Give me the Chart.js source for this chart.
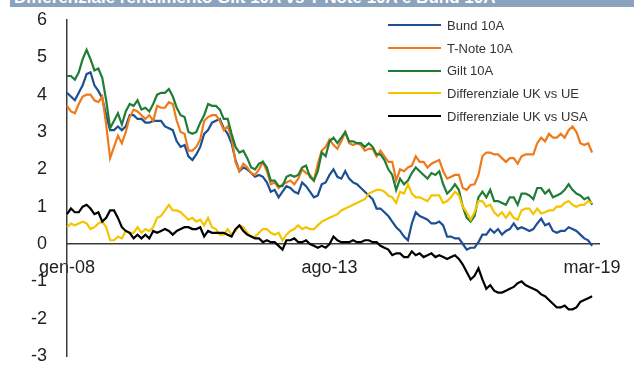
<!DOCTYPE html>
<html lang="it">
<head>
<meta charset="utf-8">
<title>Differenziale rendimento Gilt 10A</title>
<script src="https://cdn.jsdelivr.net/npm/chart.js@4.4.1/dist/chart.umd.min.js"></script>
<style>
    html, body { margin: 0; padding: 0; background: #fff; }
    #wrap { position: relative; width: 634px; height: 367px; overflow: hidden; font-family: "Liberation Sans", Arial, sans-serif; }
    #titolo { position: absolute; left: 10px; top: 0; width: 624px; height: 7px; background: #8ba3bc; overflow: hidden; z-index: 2; }
    #titolo span { position: absolute; left: 4px; bottom: 1px; color: #fff; font-weight: bold; font-size: 17px; line-height: 17px; white-space: nowrap; }
    #legenda { position: absolute; left: 388px; top: 14px; font-size: 13px; color: #333; z-index: 2; }
    .voce { height: 22.7px; display: flex; align-items: center; white-space: nowrap; }
    .voce i { display: inline-block; width: 53px; height: 2px; margin-right: 6px; }
    canvas { position: absolute; left: 0; top: 0; }
</style>
</head>
<body>
<div id="wrap">
    <div id="titolo"><span>Differenziale rendimento Gilt 10A vs T-Note 10A e Bund 10A</span></div>
    <canvas id="grafico" width="634" height="367"></canvas>
    <div id="legenda"></div>
</div>
<script>
"use strict";

// mesi da gen-08 a mar-19, dati mensili
let mesi = ['gen', 'feb', 'mar', 'apr', 'mag', 'giu', 'lug', 'ago', 'set', 'ott', 'nov', 'dic'];
let anni = ['08', '09', '10', '11', '12', '13', '14', '15', '16', '17', '18', '19'];
let etichetteAsse = ['gen-08', 'ago-13', 'mar-19'];

let bund = [
    4.05, 3.95, 3.85, 4.05, 4.25, 4.55, 4.6, 4.25, 4.1, 3.9, 3.45, 3.05,
    3.05, 3.15, 3.05, 3.15, 3.45, 3.45, 3.35, 3.35, 3.25, 3.25, 3.3, 3.3,
    3.3, 3.15, 3.1, 3.05, 2.75, 2.6, 2.65, 2.35, 2.25, 2.4, 2.6, 2.95,
    3.05, 3.25, 3.3, 3.35, 3.1, 2.95, 2.7, 2.25, 1.95, 2.05, 2.0, 1.9,
    1.8, 1.85, 1.8, 1.65, 1.4, 1.45, 1.25, 1.4, 1.55, 1.5, 1.4, 1.35,
    1.65, 1.55, 1.4, 1.25, 1.3, 1.6, 1.65, 1.85, 2.0, 1.8, 1.75, 1.95,
    1.75, 1.65, 1.6, 1.5, 1.4, 1.3, 1.2, 0.95, 0.95, 0.85, 0.75, 0.6,
    0.45, 0.35, 0.2, 0.1, 0.55, 0.85, 0.75, 0.7, 0.65, 0.55, 0.55, 0.6,
    0.5, 0.2, 0.2, 0.15, 0.15, 0.0, -0.15, -0.1, -0.1, 0.05, 0.25, 0.25,
    0.4, 0.3, 0.4, 0.25, 0.35, 0.4, 0.55, 0.4, 0.45, 0.4, 0.35, 0.4,
    0.55, 0.68, 0.5, 0.55, 0.35, 0.3, 0.35, 0.35, 0.45, 0.4, 0.35, 0.25,
    0.15, 0.1, -0.05
];
let tnote = [
    3.7, 3.55, 3.5, 3.75, 3.95, 4.0, 4.0, 3.85, 3.8, 3.95, 3.2, 2.3,
    2.6, 2.9, 2.7, 3.0, 3.4, 3.6, 3.55, 3.45, 3.35, 3.45, 3.3, 3.7,
    3.65, 3.65, 3.8, 3.75, 3.3, 3.0, 2.95, 2.5, 2.5, 2.6, 2.8, 3.3,
    3.4, 3.45, 3.45, 3.3, 3.05, 3.15, 2.85, 2.2, 1.95, 2.15, 2.05, 1.9,
    1.85, 2.0, 2.2, 1.95, 1.6, 1.65, 1.5, 1.6, 1.65, 1.7, 1.6, 1.75,
    2.0, 1.9, 1.85, 1.7, 2.15, 2.5, 2.6, 2.8, 2.65, 2.55, 2.75, 3.0,
    2.7, 2.65, 2.7, 2.65, 2.5, 2.55, 2.55, 2.35, 2.5, 2.35, 2.2, 2.2,
    1.7, 2.0, 1.95, 2.05, 2.1, 2.35, 2.2, 2.2, 2.05, 2.15, 2.2, 2.25,
    1.95, 1.75, 1.8, 1.85, 1.85, 1.5, 1.45, 1.58, 1.6, 1.85, 2.35, 2.45,
    2.45, 2.4, 2.4, 2.3, 2.2, 2.3, 2.3, 2.15, 2.35, 2.4, 2.4, 2.4,
    2.7, 2.85, 2.75, 2.95, 2.85, 2.85, 2.95, 2.85, 3.05, 3.15, 3.0, 2.7,
    2.65, 2.7, 2.45
];
let gilt = [
    4.5, 4.5, 4.4, 4.6, 4.95, 5.2, 4.95, 4.65, 4.7, 4.45, 3.85, 3.1,
    3.3, 3.5, 3.2, 3.55, 3.75, 3.7, 3.85, 3.6, 3.65, 3.55, 3.75, 4.0,
    4.05, 4.05, 4.15, 3.95, 3.65, 3.45, 3.4, 3.0, 2.95, 3.0, 3.25, 3.45,
    3.75, 3.7, 3.7, 3.6, 3.35, 3.35, 2.95, 2.6, 2.45, 2.5, 2.3, 2.05,
    2.0, 2.15, 2.2, 2.05, 1.7, 1.7, 1.55, 1.55, 1.8, 1.85, 1.8, 1.85,
    2.05, 2.1, 1.8, 1.7, 1.95, 2.45, 2.35, 2.75, 2.85, 2.7, 2.85, 3.0,
    2.75, 2.75, 2.7, 2.7, 2.6, 2.7, 2.6, 2.4, 2.4, 2.25, 2.0, 1.85,
    1.45, 1.75, 1.6, 1.7, 1.9, 2.05, 1.95, 1.85, 1.75, 1.9, 1.85, 1.95,
    1.6, 1.35, 1.45, 1.6, 1.45, 1.0, 0.7, 0.6, 0.75, 1.25, 1.4, 1.25,
    1.45, 1.15, 1.15, 1.1, 1.05, 1.25, 1.25, 1.05, 1.35, 1.35, 1.3, 1.2,
    1.5, 1.5, 1.35, 1.45, 1.25, 1.3, 1.35, 1.45, 1.6, 1.45, 1.35, 1.3,
    1.2, 1.25, 1.05
];
let diffUe = [
    0.45, 0.55, 0.5, 0.55, 0.6, 0.55, 0.4, 0.45, 0.55, 0.6, 0.45, 0.1,
    0.1, 0.2, 0.15, 0.35, 0.3, 0.3, 0.45, 0.3, 0.4, 0.35, 0.45, 0.7,
    0.75, 0.9, 1.05, 0.9, 0.9, 0.85, 0.75, 0.65, 0.7, 0.6, 0.65, 0.5,
    0.7, 0.45, 0.4, 0.25, 0.25, 0.4, 0.25, 0.35, 0.5, 0.45, 0.3, 0.2,
    0.2, 0.3, 0.4, 0.4, 0.3, 0.25, 0.3, 0.1, 0.25, 0.35, 0.4, 0.5,
    0.4, 0.45, 0.4, 0.4, 0.5, 0.6, 0.65, 0.7, 0.75, 0.8, 0.9, 0.95,
    1.0, 1.05, 1.1, 1.15, 1.2, 1.35, 1.4, 1.45, 1.45, 1.4, 1.3, 1.25,
    1.1, 1.4, 1.35, 1.6, 1.35, 1.25, 1.25, 1.2, 1.15, 1.3, 1.3, 1.3,
    1.1, 1.15, 1.25, 1.4, 1.3, 1.0, 0.85, 0.65, 0.85, 1.15, 1.15, 1.0,
    1.05, 0.85, 0.75, 0.85, 0.7, 0.85, 0.7, 0.65, 0.9, 0.95, 0.95, 0.8,
    0.95, 0.82, 0.85, 0.9, 0.9, 1.0, 1.0, 1.1, 1.15, 1.05, 1.0, 1.05,
    1.05, 1.15, 1.1
];
let diffUsa = [
    0.8, 0.95, 0.85, 0.85, 1.0, 1.05, 0.95, 0.8, 0.85, 0.6, 0.7, 0.9,
    0.9, 0.7, 0.45, 0.35, 0.3, 0.15, 0.25, 0.15, 0.25, 0.15, 0.35, 0.3,
    0.35, 0.4, 0.35, 0.25, 0.35, 0.4, 0.45, 0.45, 0.4, 0.4, 0.45, 0.2,
    0.35, 0.3, 0.3, 0.3, 0.3, 0.25, 0.2, 0.4, 0.5, 0.35, 0.25, 0.2,
    0.15, 0.15, 0.05, 0.1, 0.05, 0.05, -0.05, -0.15, 0.1, 0.1, 0.15, 0.05,
    0.05, 0.1, 0.0, -0.05, -0.1, -0.05, -0.1, 0.0, 0.2, 0.1, 0.05, 0.05,
    0.05, 0.1, 0.05, 0.05, 0.1, 0.1, 0.05, 0.05, -0.05, -0.1, -0.15, -0.3,
    -0.25, -0.25, -0.35, -0.35, -0.2, -0.3, -0.25, -0.35, -0.3, -0.25, -0.35, -0.3,
    -0.35, -0.4, -0.35, -0.3, -0.4, -0.55, -0.75, -0.95, -0.85, -0.65, -0.95, -1.2,
    -1.1, -1.25, -1.3, -1.3, -1.25, -1.2, -1.15, -1.05, -1.0, -1.1, -1.15, -1.2,
    -1.25, -1.35, -1.4, -1.5, -1.6, -1.7, -1.7, -1.65, -1.75, -1.75, -1.7, -1.55,
    -1.5, -1.45, -1.4
];

let nomiSerie = ['Bund 10A', 'T-Note 10A', 'Gilt 10A', 'Differenziale UK vs UE', 'Differenziale UK vs USA'];
let colori = ['#1d4f94', '#f07a1a', '#1f7d35', '#f5c400', '#000000'];

let font = "'Liberation Sans', Arial, sans-serif";

function main() {
    // etichette mensili, con due mesi vuoti in coda per allungare l'asse
    let labels = [];
    for (let a = 0; a < anni.length; a++) {
        for (let m = 0; m < 12; m++) {
            labels.push(mesi[m] + '-' + anni[a]);
            if (anni[a] === '19' && m === 4) break;
        }
    }

    let valori = [bund, tnote, gilt, diffUe, diffUsa];
    let datasets = [];
    for (let i = 0; i < valori.length; i++) {
        datasets.push({
            label: nomiSerie[i],
            data: valori[i],
            borderColor: colori[i],
            borderWidth: 2.2,
            pointRadius: 0,
            tension: 0,
            fill: false,
            order: valori.length - i // l'ultima serie sopra le altre
        });
    }

    new Chart(document.getElementById('grafico'), {
        type: 'line',
        data: { labels: labels, datasets: datasets },
        options: {
            responsive: false,
            animation: false,
            devicePixelRatio: 1,
            layout: { padding: { top: 20, right: 26, bottom: 10, left: 0 } },
            plugins: { legend: { display: false }, tooltip: { enabled: false } },
            scales: {
                x: {
                    type: 'category',
                    position: { y: 0 },
                    grid: { display: false, drawTicks: false },
                    border: { display: true, color: '#3c3c3c', width: 1.5 },
                    ticks: {
                        autoSkip: false,
                        maxRotation: 0,
                        padding: 13,
                        color: '#222',
                        font: { size: 18, family: font },
                        callback: function (v) {
                            let l = this.getLabelForValue(v);
                            return etichetteAsse.includes(l) ? l : null;
                        }
                    },
                    // l'asse sta sullo zero, non deve togliere spazio in basso
                    afterFit: function (scale) { scale.height = 0; }
                },
                y: {
                    min: -3,
                    max: 6,
                    // tacche trasparenti: spostano le etichette senza allargare il margine alto/basso
                    grid: { display: true, drawOnChartArea: false, drawTicks: true, tickLength: 18, color: 'rgba(0,0,0,0)' },
                    border: { display: true, color: '#3c3c3c', width: 1.5 },
                    ticks: { stepSize: 1, padding: 2, color: '#222', font: { size: 18, family: font, lineHeight: 1 } },
                    afterFit: function (scale) { scale.width = 67; }
                }
            }
        }
    });

    // legenda dentro il grafico, in alto a destra
    let legenda = document.getElementById('legenda');
    for (let i = 0; i < nomiSerie.length; i++) {
        let voce = document.createElement('div');
        voce.className = 'voce';
        let segno = document.createElement('i');
        segno.style.background = colori[i];
        voce.appendChild(segno);
        voce.appendChild(document.createTextNode(nomiSerie[i]));
        legenda.appendChild(voce);
    }
}

document.addEventListener('DOMContentLoaded', main);
</script>
</body>
</html>
